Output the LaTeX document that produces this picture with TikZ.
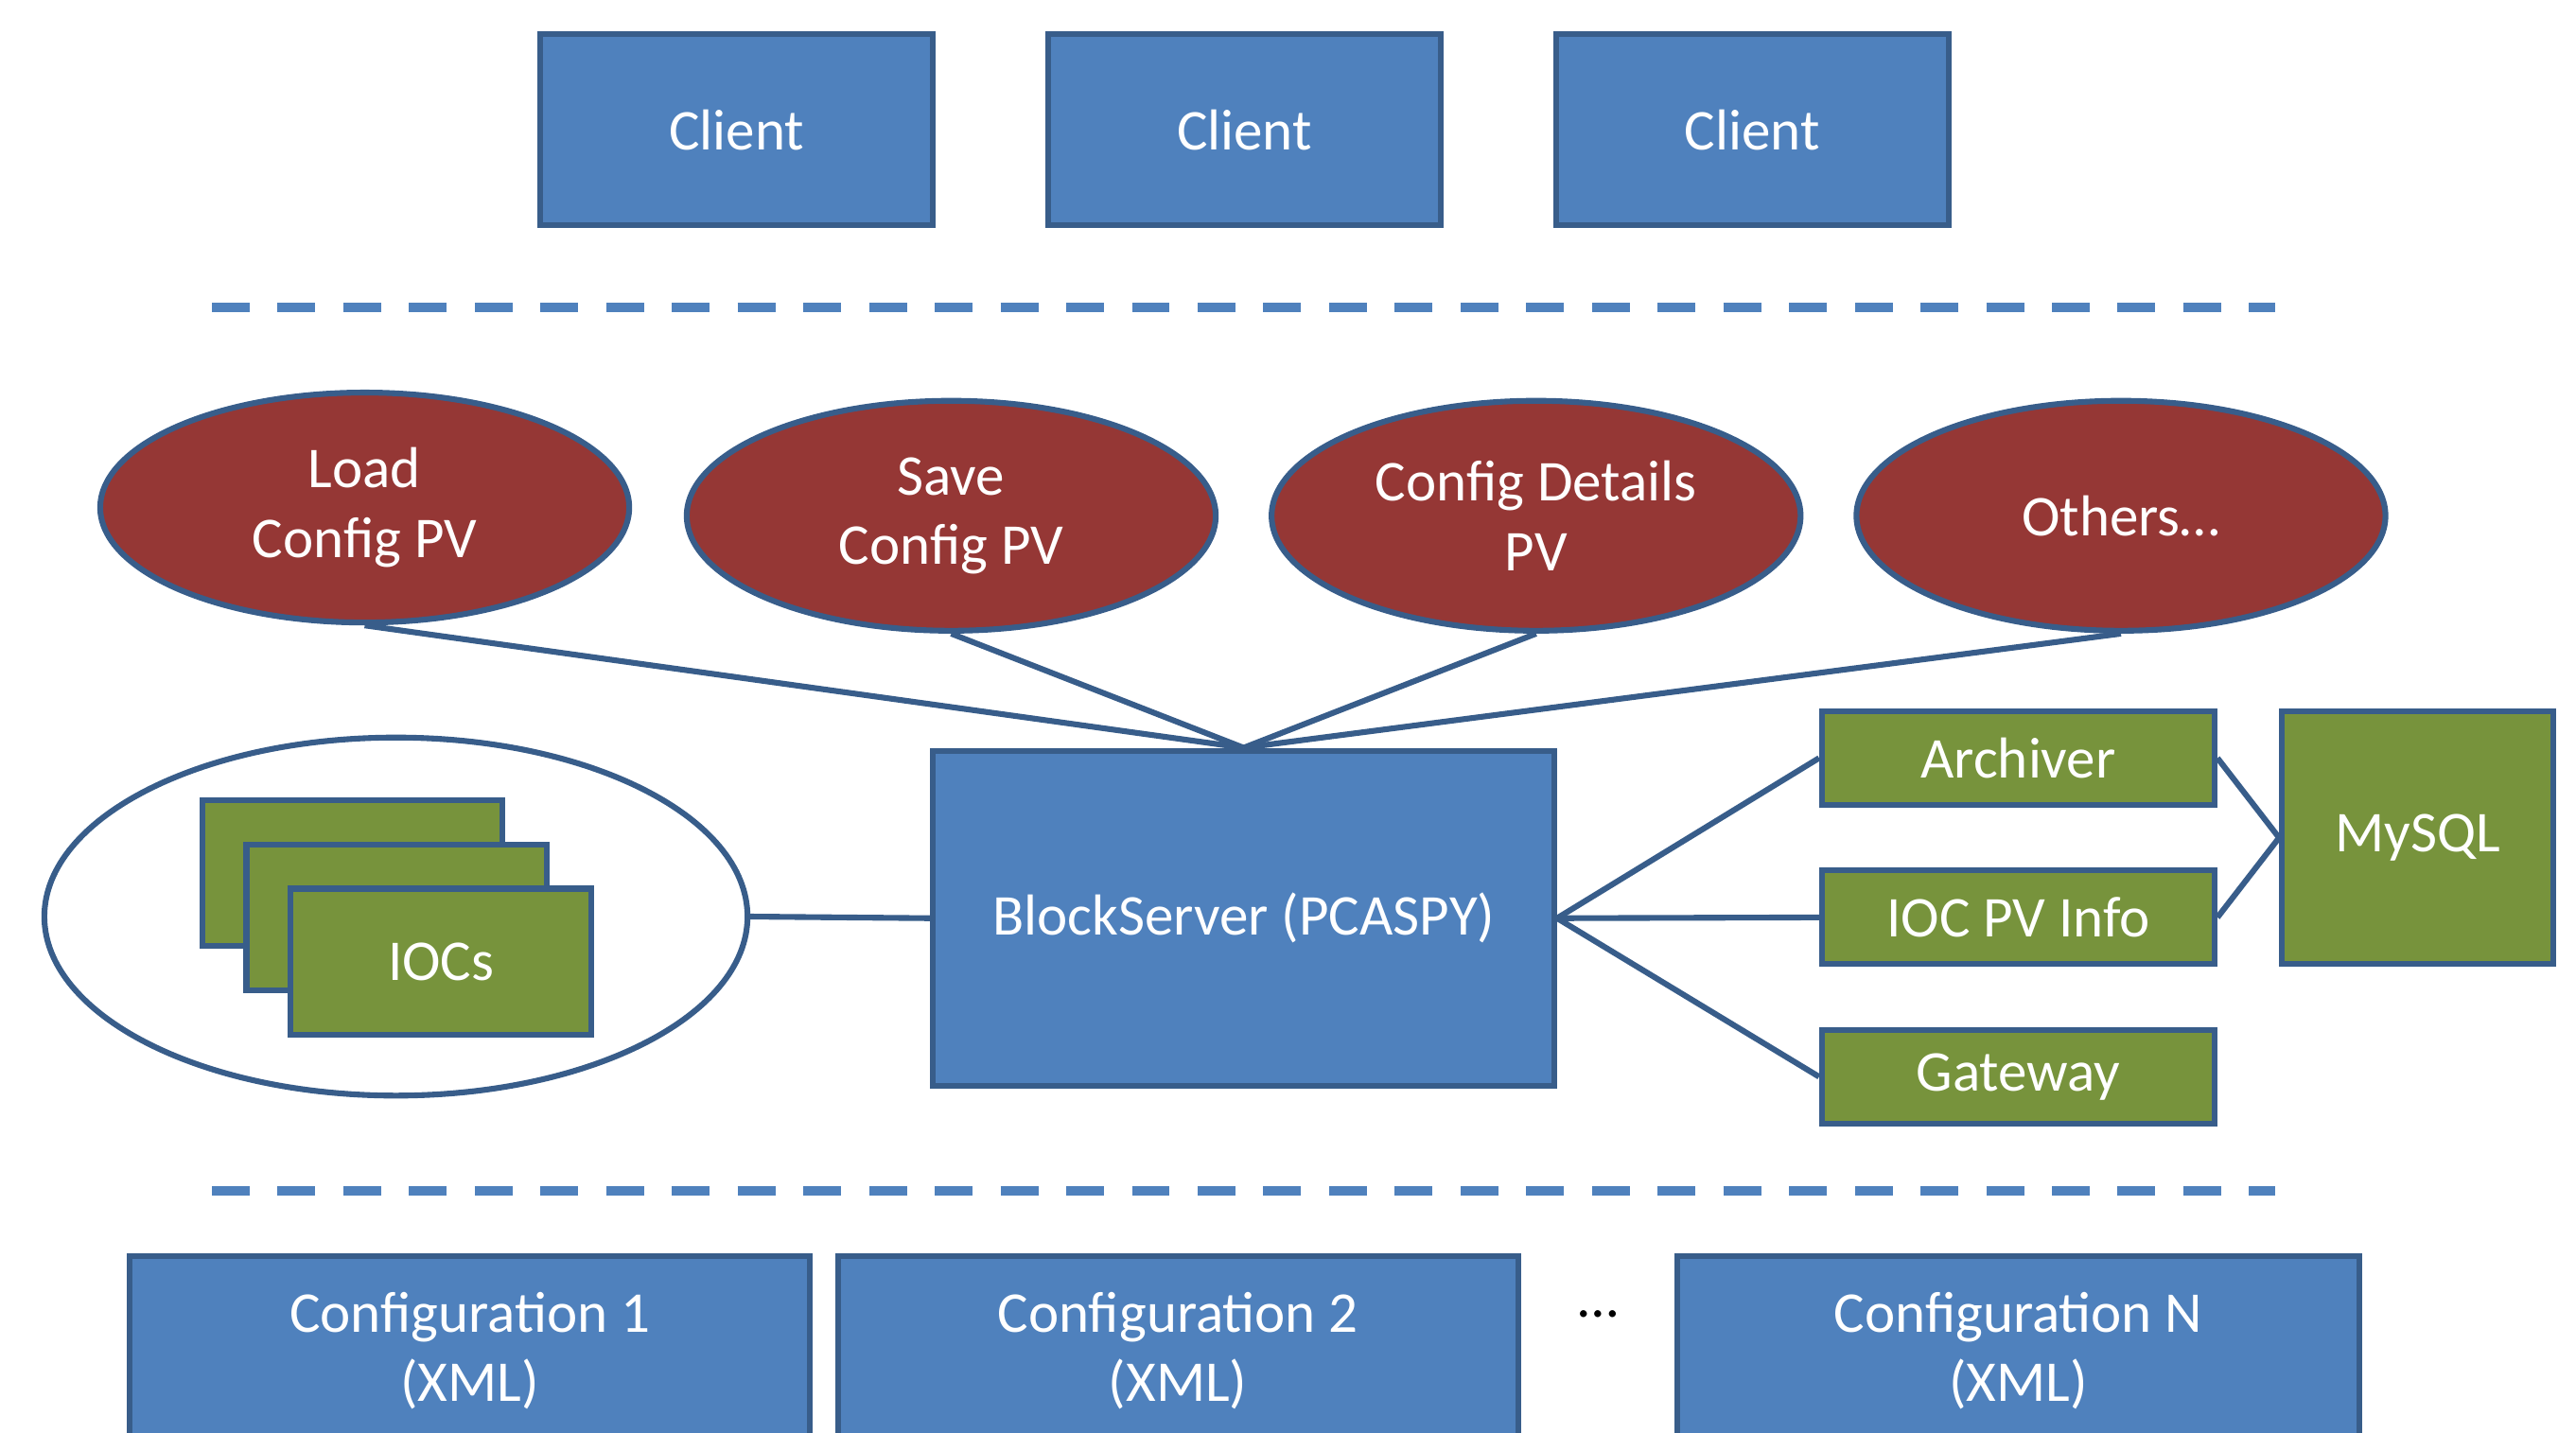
\documentclass[tikz,border=0pt]{standalone}
\usepackage{fontspec}
\setmainfont{Carlito}
\usetikzlibrary{shapes.geometric}
\definecolor{boxblue}{HTML}{4F81BD}
\definecolor{lineblue}{HTML}{385D8A}
\definecolor{pvred}{HTML}{953735}
\definecolor{dbgreen}{HTML}{77933C}
\begin{document}
\begin{tikzpicture}[font=\fontsize{10}{12}\selectfont,
    blue box/.style={draw=lineblue,line width=1pt,fill=boxblue,text=white,minimum width=2.39cm,minimum height=1.16cm,inner sep=0pt,align=center},
    pv/.style={ellipse,draw=lineblue,line width=1pt,fill=pvred,text=white,minimum width=3.22cm,minimum height=1.4cm,inner sep=0pt,align=center},
    green box/.style={draw=lineblue,line width=1pt,fill=dbgreen,text=white,minimum width=2.39cm,minimum height=0.57cm,inner sep=0pt,align=center},
    ioc/.style={draw=lineblue,line width=1pt,fill=dbgreen,text=white,minimum width=1.83cm,minimum height=0.89cm,inner sep=0pt},
    sep/.style={draw=boxblue,line width=1.65pt,dash pattern=on 0.23cm off 0.17cm},
    link/.style={draw=lineblue,line width=1pt}]
    \useasboundingbox (0,0) rectangle (15.68,8.72);
        \node[blue box] (c1) at (4.485,7.93) {Client};
        \node[blue box] (c2) at (7.575,7.93) {Client};
        \node[blue box] (c3) at (10.665,7.93) {Client};
        \coordinate (s1a) at (1.29,6.85);
        \coordinate (s1b) at (13.85,6.85);
        \draw[sep] (s1a) -- (s1b);
        \node[pv] (load) at (2.22,5.63) {Load\\Config PV};
        \node[pv] (save) at (5.79,5.58) {Save\\Config PV};
        \node[pv] (details) at (9.35,5.58) {Config Details\\PV};
        \node[pv] (others) at (12.91,5.58) {Others\ldots};
        \node[blue box,minimum width=3.78cm,minimum height=2.04cm] (bs) at (7.57,3.13) {BlockServer (PCASPY)};
        \node[ellipse,draw=lineblue,line width=1pt,fill=white,minimum width=4.28cm,minimum height=2.18cm] (iocs) at (2.41,3.14) {};
        \node[ioc] (ioc1) at (2.145,3.405) {};
        \node[ioc] (ioc2) at (2.415,3.135) {};
        \node[ioc] (ioc3) at (2.685,2.865) {IOCs};
        \node[green box] (arch) at (12.285,4.105) {Archiver};
        \node[green box] (info) at (12.285,3.135) {IOC PV Info};
        \node[green box] (gw) at (12.285,2.165) {Gateway};
        \node[green box,minimum width=1.65cm,minimum height=1.54cm] (sql) at (14.715,3.62) {MySQL};
        \draw[link] (load.south) -- (bs.north);
        \draw[link] (save.south) -- (bs.north);
        \draw[link] (details.south) -- (bs.north);
        \draw[link] (others.south) -- (bs.north);
        \draw[link] (iocs.east) -- (bs.west);
        \draw[link] (bs.east) -- (arch.west);
        \draw[link] (bs.east) -- (info.west);
        \draw[link] (bs.east) -- (gw.west);
        \draw[link] (arch.east) -- (sql.west);
        \draw[link] (info.east) -- (sql.west);
        \coordinate (s2a) at (1.29,1.47);
        \coordinate (s2b) at (13.85,1.47);
        \draw[sep] (s2a) -- (s2b);
        \node[blue box,minimum width=4.14cm] (conf1) at (2.86,0.495) {Configuration 1\\(XML)};
        \node[blue box,minimum width=4.14cm] (conf2) at (7.17,0.495) {Configuration 2\\(XML)};
        \node (dots) at (9.73,0.72) {\ldots};
        \node[blue box,minimum width=4.15cm] (confn) at (12.285,0.495) {Configuration N\\(XML)};
    \end{tikzpicture}
\end{document}
